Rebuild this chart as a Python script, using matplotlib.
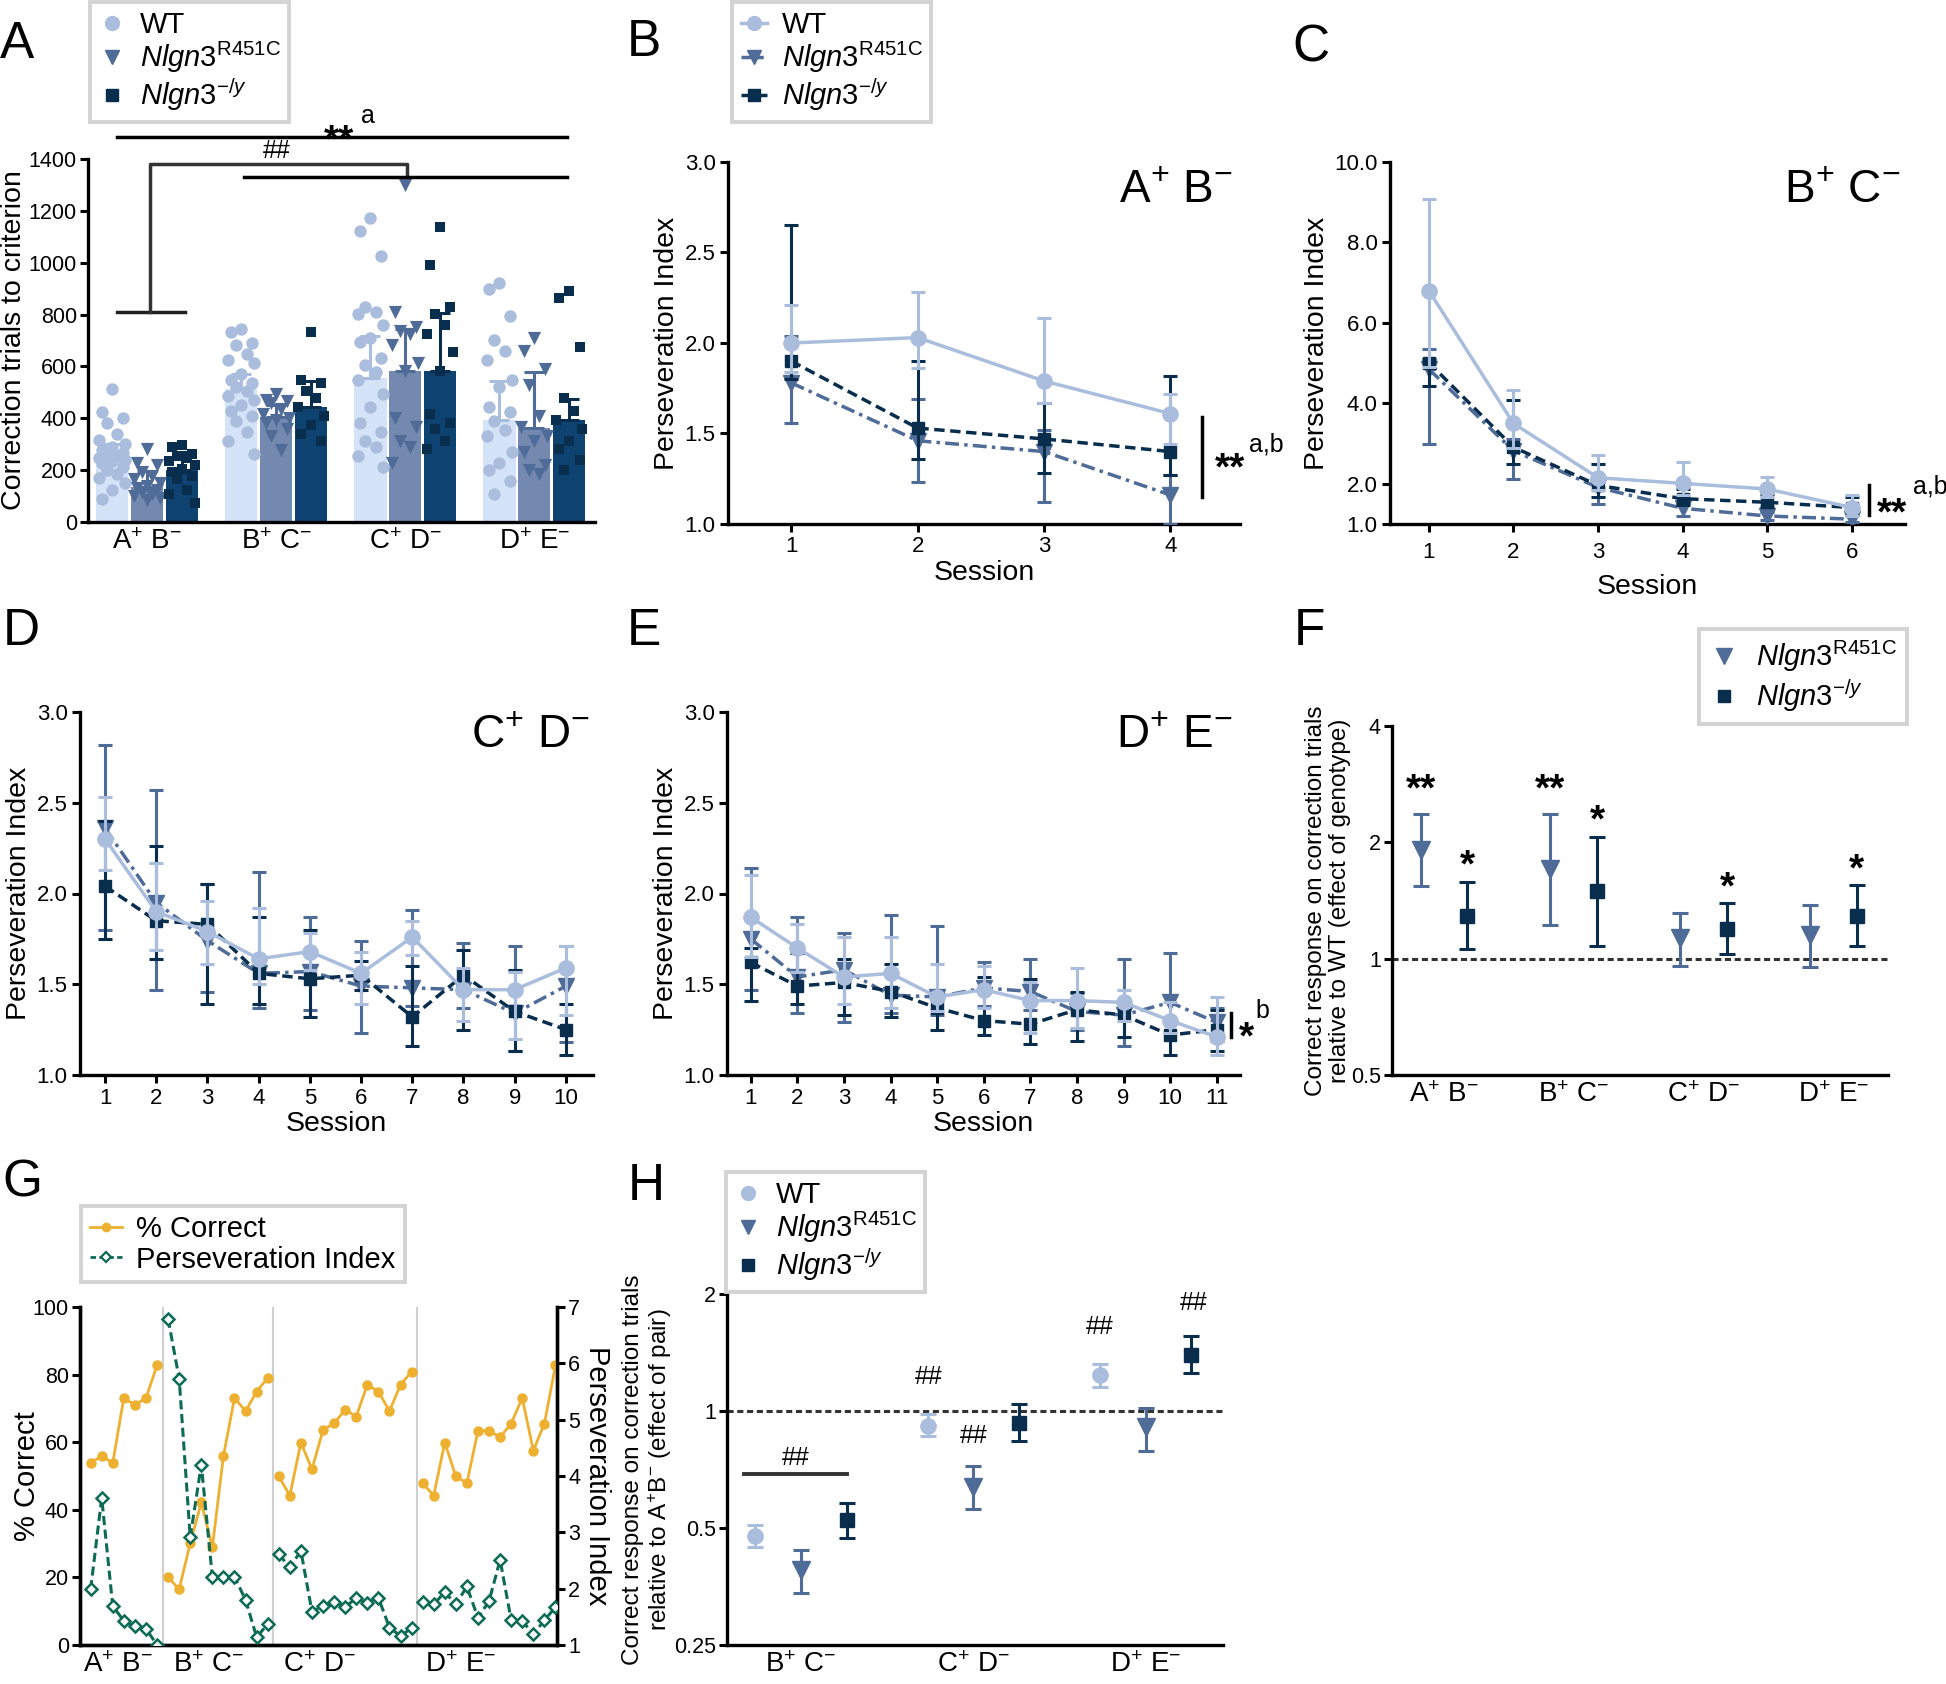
import numpy as np
import matplotlib
matplotlib.use("Agg")
import matplotlib.pyplot as plt
from matplotlib.lines import Line2D

plt.rcParams.update({
    'font.family': ['Liberation Sans', 'DejaVu Sans'],
    'mathtext.fontset': 'custom',
    'mathtext.rm': 'Liberation Sans',
    'mathtext.it': 'Liberation Sans:italic',
    'mathtext.bf': 'Liberation Sans:bold',
    'axes.linewidth': 2.4,
    'xtick.major.width': 2.2, 'ytick.major.width': 2.2,
    'xtick.major.size': 6, 'ytick.major.size': 6,
})

# ---------------- DATA ----------------
cats4 = [r'A$^{+}$ B$^{-}$', r'B$^{+}$ C$^{-}$', r'C$^{+}$ D$^{-}$', r'D$^{+}$ E$^{-}$']
cats3 = [r'B$^{+}$ C$^{-}$', r'C$^{+}$ D$^{-}$', r'D$^{+}$ E$^{-}$']
lab_wt = 'WT'
lab_r = r'$\mathit{Nlgn3}^{\mathrm{R451C}}$'
lab_ko = r'$\mathit{Nlgn3}^{-/y}$'

# Panel A: correction trials to criterion
a_wt_mean = [245, 514, 556, 392]
a_r_mean = [136, 405, 581, 364]
a_ko_mean = [202, 444, 584, 395]
a_wt_err = [55, 56, 161, 153]
a_r_err = [60, 46, 164, 213]
a_ko_err = [67, 100, 221, 81]
a_wt_pts = [
    [514, 423, 402, 381, 339, 318, 300, 290, 276, 265, 262, 255, 248, 241, 234, 227, 213, 199, 185, 171, 150, 122, 87],
    [745, 731, 689, 682, 647, 626, 612, 570, 549, 535, 521, 507, 486, 472, 451, 430, 409, 388, 346, 311, 262],
    [1172, 1123, 1025, 829, 808, 801, 759, 710, 696, 633, 605, 577, 549, 493, 444, 381, 346, 311, 290, 255, 213],
    [920, 899, 794, 703, 661, 626, 549, 521, 444, 423, 388, 353, 332, 269, 227, 199, 157, 108],
]
a_r_pts = [
    [283, 227, 220, 192, 178, 164, 150, 140, 130, 122, 115, 108, 100, 94, 85],
    [493, 472, 465, 458, 437, 416, 400, 395, 381, 360, 332, 276],
    [1298, 808, 752, 738, 724, 682, 612, 584, 402, 367, 311, 290, 227],
    [710, 661, 591, 528, 409, 367, 332, 311, 269, 220, 199, 185],
]
a_ko_pts = [
    [297, 290, 262, 255, 248, 234, 220, 206, 192, 178, 164, 122, 108, 73],
    [731, 549, 535, 507, 479, 444, 409, 374, 339, 311],
    [1137, 991, 829, 801, 759, 724, 654, 584, 416, 381, 360, 311, 283],
    [892, 864, 675, 479, 430, 395, 360, 311, 283, 241, 199],
]

# Panel B (A+B-), 4 sessions: means, lower and upper error lengths
b_sess = [1, 2, 3, 4]
b_wt = [2.00, 2.03, 1.79, 1.61]; b_wt_lo = [0.16, 0.17, 0.12, 0.17]; b_wt_hi = [0.21, 0.25, 0.35, 0.11]
b_r = [1.78, 1.46, 1.40, 1.16];  b_r_lo = [0.22, 0.23, 0.28, 0.16];  b_r_hi = [0.26, 0.23, 0.12, 0.11]
b_ko = [1.90, 1.53, 1.47, 1.40]; b_ko_lo = [0.10, 0.17, 0.19, 0.13]; b_ko_hi = [0.75, 0.37, 0.20, 0.42]

# Panel C (B+C-), 6 sessions
c_sess = [1, 2, 3, 4, 5, 6]
c_wt = [6.80, 3.50, 2.15, 2.01, 1.87, 1.41]
c_wt_lo = [1.90, 0.60, 0.30, 0.30, 0.20, 0.20]; c_wt_hi = [2.27, 0.83, 0.57, 0.52, 0.30, 0.30]
c_r = [4.85, 2.82, 1.91, 1.39, 1.20, 1.12]
c_r_lo = [1.85, 0.70, 0.41, 0.19, 0.10, 0.08]; c_r_hi = [0.50, 0.30, 0.20, 0.15, 0.10, 0.10]
c_ko = [5.01, 2.91, 1.96, 1.63, 1.54, 1.41]
c_ko_lo = [0.58, 0.43, 0.30, 0.15, 0.12, 0.12]; c_ko_hi = [0.10, 1.18, 0.54, 0.25, 0.20, 0.25]

# Panel D (C+D-), 10 sessions
d_sess = list(range(1, 11))
d_wt = [2.30, 1.90, 1.79, 1.64, 1.68, 1.56, 1.76, 1.47, 1.47, 1.59]
d_wt_lo = [0.17, 0.21, 0.18, 0.14, 0.10, 0.17, 0.10, 0.17, 0.27, 0.26]
d_wt_hi = [0.23, 0.27, 0.17, 0.28, 0.10, 0.12, 0.09, 0.12, 0.10, 0.12]
d_r = [2.36, 1.95, 1.74, 1.56, 1.57, 1.49, 1.48, 1.47, 1.34, 1.49]
d_r_lo = [0.56, 0.48, 0.28, 0.19, 0.21, 0.26, 0.10, 0.10, 0.21, 0.31]
d_r_hi = [0.46, 0.62, 0.31, 0.56, 0.30, 0.25, 0.43, 0.26, 0.37, 0.22]
d_ko = [2.04, 1.85, 1.83, 1.56, 1.53, 1.55, 1.32, 1.55, 1.35, 1.25]
d_ko_lo = [0.29, 0.21, 0.44, 0.17, 0.21, 0.08, 0.16, 0.30, 0.22, 0.14]
d_ko_hi = [0.36, 0.41, 0.22, 0.31, 0.27, 0.08, 0.28, 0.14, 0.23, 0.14]

# Panel E (D+E-), 11 sessions
e_sess = list(range(1, 12))
e_wt = [1.87, 1.70, 1.54, 1.56, 1.43, 1.47, 1.41, 1.41, 1.40, 1.30, 1.21]
e_wt_lo = [0.22, 0.13, 0.15, 0.19, 0.08, 0.10, 0.18, 0.15, 0.10, 0.07, 0.10]
e_wt_hi = [0.23, 0.13, 0.22, 0.20, 0.18, 0.13, 0.10, 0.18, 0.07, 0.10, 0.22]
e_r = [1.75, 1.54, 1.58, 1.44, 1.43, 1.48, 1.46, 1.35, 1.33, 1.40, 1.29]
e_r_lo = [0.28, 0.20, 0.29, 0.10, 0.10, 0.10, 0.10, 0.10, 0.17, 0.10, 0.10]
e_r_hi = [0.39, 0.33, 0.20, 0.44, 0.39, 0.14, 0.18, 0.10, 0.31, 0.27, 0.08]
e_ko = [1.62, 1.49, 1.51, 1.46, 1.37, 1.30, 1.28, 1.36, 1.33, 1.22, 1.25]
e_ko_lo = [0.21, 0.10, 0.18, 0.14, 0.12, 0.08, 0.11, 0.17, 0.12, 0.11, 0.12]
e_ko_hi = [0.08, 0.18, 0.13, 0.15, 0.08, 0.24, 0.25, 0.10, 0.05, 0.08, 0.11]

# Panel F: effect of genotype (relative to WT)
f_r = [1.91, 1.71, 1.13, 1.15]; f_r_lo = [1.54, 1.22, 0.96, 0.95]; f_r_hi = [2.37, 2.37, 1.31, 1.38]
f_ko = [1.29, 1.50, 1.19, 1.29]; f_ko_lo = [1.06, 1.08, 1.03, 1.08]; f_ko_hi = [1.58, 2.07, 1.39, 1.55]
f_r_sig = ['**', '**', '', '']
f_ko_sig = ['*', '*', '*', '*']

# Panel G: WT % correct and perseveration index by session
g_group_sizes = [7, 10, 13, 13]
g_pc = [53.9, 55.9, 53.9, 73.1, 71.0, 73.1, 82.7,
        20.0, 16.5, 30.1, 42.2, 28.9, 55.9, 73.1, 69.2, 75.0, 79.0,
        49.9, 44.2, 59.9, 52.0, 63.6, 65.6, 69.6, 67.6, 77.0, 75.0, 69.2, 77.0, 80.9,
        47.9, 44.2, 59.9, 49.9, 47.9, 63.4, 63.4, 61.5, 65.5, 73.1, 57.5, 65.5, 82.7]
g_pi = [1.99, 3.61, 1.69, 1.43, 1.33, 1.29, 1.00,
        6.79, 5.73, 2.91, 4.20, 2.21, 2.21, 2.21, 1.80, 1.14, 1.37,
        2.61, 2.38, 2.67, 1.59, 1.69, 1.77, 1.68, 1.83, 1.75, 1.84, 1.31, 1.16, 1.30,
        1.77, 1.72, 1.94, 1.72, 2.04, 1.48, 1.78, 2.51, 1.44, 1.43, 1.19, 1.44, 1.67]

# Panel H: effect of pair (relative to A+B-)
h_wt = [0.476, 0.915, 1.235]; h_wt_lo = [0.447, 0.86, 1.15]; h_wt_hi = [0.508, 0.98, 1.32]
h_r = [0.39, 0.637, 0.91];    h_r_lo = [0.34, 0.56, 0.79];    h_r_hi = [0.44, 0.72, 1.02]
h_ko = [0.523, 0.933, 1.39];  h_ko_lo = [0.47, 0.837, 1.25];  h_ko_hi = [0.58, 1.04, 1.56]

# ---------------- STYLE ----------------
WT_C, R_C, KO_C = '#aabddd', '#4f6b97', '#082d4d'
WT_BAR, R_BAR, KO_BAR = '#d4e3f7', '#7489b0', '#0e4270'
ORANGE, GREEN = '#eeb030', '#0d6b55'

W, H = 1946, 1684
fig = plt.figure(figsize=(W / 100, H / 100), dpi=100)


def add_ax(l, t, r, b):
    return fig.add_axes([l / W, 1 - b / H, (r - l) / W, (b - t) / H])


def ftext(x, y, s, **kw):
    fig.text(x / W, 1 - y / H, s, **kw)


def star(ax, x, y, s, fs=26):
    ax.annotate(s, xy=(x, y), xytext=(0, -0.62 * fs), textcoords='offset points',
                ha='center', va='baseline', fontsize=fs, fontweight='bold',
                annotation_clip=False)


def clean(ax):
    ax.spines['top'].set_visible(False)
    ax.spines['right'].set_visible(False)


def legend_at(ax, handles, labels, x, y, fs=21, **kw):
    leg = ax.legend(handles, labels, loc='upper left', bbox_to_anchor=(x / W, 1 - y / H),
                    bbox_transform=fig.transFigure, fontsize=fs, frameon=True, fancybox=False,
                    borderaxespad=0, **kw)
    fr = leg.get_frame()
    fr.set_edgecolor('#d3d3d3'); fr.set_linewidth(2.8); fr.set_facecolor('white'); fr.set_alpha(1)
    return leg


# ---------------- PANEL A ----------------
axA = add_ax(88, 159, 595, 522)
clean(axA)
xA = np.arange(4)
offs = [-0.27, 0.0, 0.27]
cyc = [0.0, -0.08, 0.08, -0.04, 0.04, -0.1, 0.1]
groupsA = [
    (a_wt_mean, a_wt_err, a_wt_pts, WT_BAR, WT_C, 'o', 80),
    (a_r_mean, a_r_err, a_r_pts, R_BAR, R_C, 'v', 90),
    (a_ko_mean, a_ko_err, a_ko_pts, KO_BAR, KO_C, 's', 58),
]
for k, (m, e, pts, bc, pc, mk, sz) in enumerate(groupsA):
    axA.bar(xA + offs[k], m, 0.25, color=bc, zorder=1)
    for i in range(4):
        jit = [cyc[j % len(cyc)] for j in range(len(pts[i]))]
        axA.scatter(xA[i] + offs[k] + np.array(jit), pts[i], marker=mk, s=sz, color=pc,
                    linewidths=0, zorder=2)
    axA.errorbar(xA + offs[k], m, yerr=[np.zeros(4), e], fmt='none', ecolor=pc,
                 elinewidth=2.2, capsize=7, capthick=2.2, zorder=3)
axA.set_xlim(-0.458, 3.47)
axA.set_ylim(0, 1400)
axA.set_yticks(range(0, 1401, 200))
axA.set_xticks(xA)
axA.set_xticklabels(cats4, fontsize=20)
axA.tick_params(axis='x', length=0, pad=5)
axA.tick_params(axis='y', labelsize=15.5, pad=2)
axA.set_ylabel('Correction trials to criterion', fontsize=20.5, labelpad=1)
axA.plot([-0.236, 3.25], [1484, 1484], color='k', lw=2.5, clip_on=False)
star(axA, 1.49, 1522, '**', 28)
axA.text(1.71, 1564, 'a', fontsize=18, ha='center', va='center', clip_on=False)
axA.plot([-0.236, 0.296], [808, 808], color='#222222', lw=2.5, clip_on=False)
axA.plot([0.024, 0.024, 2.01, 2.01], [808, 1379, 1379, 1340], color='#333333', lw=2.5, clip_on=False)
axA.plot([0.754, 3.25], [1330, 1330], color='k', lw=2.5, clip_on=False)
axA.text(1.005, 1431, '##', fontsize=18, ha='center', va='center', clip_on=False)
legend_at(axA,
          [Line2D([], [], ls='none', marker='o', color=WT_C, ms=10),
           Line2D([], [], ls='none', marker='v', color=R_C, ms=10),
           Line2D([], [], ls='none', marker='s', color=KO_C, ms=8)],
          [lab_wt, lab_r, lab_ko], 90, 2, handlelength=0.9, handletextpad=0.5,
          labelspacing=0.05, borderpad=0.3)


# ---------------- SESSION PANELS ----------------
def session_panel(ax, xs, wt, wlo, whi, r, rlo, rhi, ko, klo, khi, xpad=2):
    clean(ax)
    ax.errorbar(xs, r, yerr=[rlo, rhi], color=R_C, ls=(0, (4, 1.5, 1, 1.5)), marker='v', ms=11,
                lw=2.5, elinewidth=2.2, capsize=5, capthick=2.2, zorder=3)
    ax.errorbar(xs, ko, yerr=[klo, khi], color=KO_C, ls=(0, (3, 1.6)), marker='s', ms=9,
                lw=2.5, elinewidth=2.2, capsize=5, capthick=2.2, zorder=4)
    ax.errorbar(xs, wt, yerr=[wlo, whi], color=WT_C, ls='-', marker='o', ms=11,
                lw=2.5, elinewidth=2.2, capsize=5, capthick=2.2, zorder=5)
    ax.set_xticks(xs)
    ax.tick_params(labelsize=16, pad=3)
    ax.set_xlabel('Session', fontsize=20.5, labelpad=xpad)
    ax.set_ylabel('Perseveration Index', fontsize=20.5, labelpad=3)


PI_TICKS = [1.0, 1.5, 2.0, 2.5, 3.0]
PI_LABELS = ['1.0', '1.5', '2.0', '2.5', '3.0']

axB = add_ax(728, 162, 1240, 524)
session_panel(axB, b_sess, b_wt, b_wt_lo, b_wt_hi, b_r, b_r_lo, b_r_hi, b_ko, b_ko_lo, b_ko_hi)
axB.set_xlim(0.5, 4.55); axB.set_ylim(1, 3)
axB.set_yticks(PI_TICKS); axB.set_yticklabels(PI_LABELS)
axB.plot([4.25, 4.25], [1.15, 1.59], color='k', lw=2.5, clip_on=False)
star(axB, 4.47, 1.38, '**', 28)
axB.text(4.76, 1.44, 'a,b', fontsize=18, ha='center', va='center', clip_on=False)
legend_at(axB,
          [Line2D([], [], ls='-', marker='o', color=WT_C, ms=10, lw=2.5),
           Line2D([], [], ls='-.', marker='v', color=R_C, ms=10, lw=2.5),
           Line2D([], [], ls='--', marker='s', color=KO_C, ms=8, lw=2.5)],
          [lab_wt, lab_r, lab_ko], 732, 2, handlelength=0.9, handletextpad=0.5,
          labelspacing=0.05, borderpad=0.3)
ftext(1176, 191, r'A$^{+}$ B$^{-}$', fontsize=33, ha='center', va='center')

axC = add_ax(1390, 162, 1905, 524)
session_panel(axC, c_sess, c_wt, c_wt_lo, c_wt_hi, c_r, c_r_lo, c_r_hi, c_ko, c_ko_lo, c_ko_hi, xpad=8)
axC.set_xlim(0.54, 6.63); axC.set_ylim(1, 10)
axC.set_yticks([1, 2, 4, 6, 8, 10]); axC.set_yticklabels(['1.0', '2.0', '4.0', '6.0', '8.0', '10.0'])
axC.tick_params(axis='x', pad=7)
axC.plot([6.2, 6.2], [1.22, 1.96], color='k', lw=2.5, clip_on=False)
star(axC, 6.48, 1.58, '**', 28)
axC.text(6.93, 1.92, 'a,b', fontsize=18, ha='center', va='center', clip_on=False)
ftext(1842, 191, r'B$^{+}$ C$^{-}$', fontsize=33, ha='center', va='center')

axD = add_ax(80, 712, 593, 1075)
session_panel(axD, d_sess, d_wt, d_wt_lo, d_wt_hi, d_r, d_r_lo, d_r_hi, d_ko, d_ko_lo, d_ko_hi)
axD.set_xlim(0.51, 10.53); axD.set_ylim(1, 3)
axD.set_yticks(PI_TICKS); axD.set_yticklabels(PI_LABELS)
ftext(531, 736, r'C$^{+}$ D$^{-}$', fontsize=33, ha='center', va='center')

axE = add_ax(727, 712, 1240, 1075)
session_panel(axE, e_sess, e_wt, e_wt_lo, e_wt_hi, e_r, e_r_lo, e_r_hi, e_ko, e_ko_lo, e_ko_hi)
axE.set_xlim(0.49, 11.5); axE.set_ylim(1, 3)
axE.set_yticks(PI_TICKS); axE.set_yticklabels(PI_LABELS)
axE.plot([11.31, 11.31], [1.21, 1.34], color='k', lw=2.5, clip_on=False)
star(axE, 11.64, 1.28, '*', 28)
axE.text(11.97, 1.35, 'b', fontsize=18, ha='center', va='center', clip_on=False)
ftext(1174, 736, r'D$^{+}$ E$^{-}$', fontsize=33, ha='center', va='center')


# ---------------- PANEL F ----------------
def ratio_axes(ax):
    clean(ax)
    ax.set_yscale('log', base=2)
    ax.yaxis.set_minor_locator(matplotlib.ticker.NullLocator())
    ax.tick_params(axis='x', length=0, labelsize=20, pad=5)
    ax.tick_params(axis='y', labelsize=15.5, pad=2)


axF = add_ax(1392, 726, 1888, 1075)
ratio_axes(axF)
xF = np.arange(4)
axF.axhline(1, color='#333333', lw=2.2, ls=(0, (2, 1.2)), zorder=1)
axF.errorbar(xF - 0.18, f_r, yerr=[np.array(f_r) - f_r_lo, np.array(f_r_hi) - f_r],
             fmt='v', color=R_C, ms=13, elinewidth=2.2, capsize=6, capthick=2.2, zorder=3)
axF.errorbar(xF + 0.18, f_ko, yerr=[np.array(f_ko) - f_ko_lo, np.array(f_ko_hi) - f_ko],
             fmt='s', color=KO_C, ms=10, elinewidth=2.2, capsize=6, capthick=2.2, zorder=3)
for i in range(4):
    if f_r_sig[i]:
        star(axF, xF[i] - 0.18, f_r_hi[i] * 1.25, f_r_sig[i], 28)
    if f_ko_sig[i]:
        star(axF, xF[i] + 0.18, f_ko_hi[i] * 1.19, f_ko_sig[i], 28)
axF.set_xlim(-0.40, 3.42); axF.set_ylim(0.5, 4)
axF.set_yticks([0.5, 1, 2, 4]); axF.set_yticklabels(['0.5', '1', '2', '4'])
axF.set_xticks(xF); axF.set_xticklabels(cats4)
axF.set_ylabel('Correct response on correction trials\nrelative to WT (effect of genotype)',
               fontsize=17.5, labelpad=0, linespacing=1.1)
legend_at(axF,
          [Line2D([], [], ls='none', marker='v', color=R_C, ms=11),
           Line2D([], [], ls='none', marker='s', color=KO_C, ms=9)],
          [lab_r, lab_ko], 1699, 629, handlelength=1.0, handletextpad=0.6,
          labelspacing=0.1, borderpad=0.35)

# ---------------- PANEL G ----------------
axG = add_ax(80, 1307, 557, 1645)
axG2 = axG.twinx()
axG.spines['top'].set_visible(False)
axG2.spines['top'].set_visible(False)
start = 0
for n in g_group_sizes:
    xs = np.arange(start, start + n)
    axG.plot(xs, g_pc[start:start + n], color=ORANGE, marker='o', ms=6.5, lw=2, zorder=3)
    axG2.plot(xs, g_pi[start:start + n], color=GREEN, ls=(0, (3, 1.5)), marker='D', ms=6,
              mfc='white', mec=GREEN, mew=1.8, lw=2.2, zorder=3)
    start += n
    if start < len(g_pc):
        axG.axvline(start - 0.5, color='#cfcfcf', lw=1.5, zorder=0)
axG.set_xlim(-0.96, 42.14)
axG.set_ylim(0, 100); axG2.set_ylim(1, 7)
axG.set_yticks(range(0, 101, 20)); axG2.set_yticks(range(1, 8))
axG.set_xticks([2.5, 10.7, 20.7, 33.4]); axG.set_xticklabels(cats4)
axG.tick_params(axis='x', length=0, labelsize=20, pad=5)
axG.tick_params(axis='y', labelsize=15.5, pad=2)
axG2.tick_params(axis='y', labelsize=15.5, pad=2)
axG.set_ylabel('% Correct', fontsize=21, labelpad=-6)
axG2.set_ylabel('Perseveration Index', fontsize=21, rotation=270, labelpad=22)
legend_at(axG,
          [Line2D([], [], color=ORANGE, marker='o', ms=6, lw=2),
           Line2D([], [], color=GREEN, ls=(0, (2, 1.2)), marker='D', ms=5.5, mfc='white', mew=1.6, lw=2)],
          ['% Correct', 'Perseveration Index'], 81, 1206, handlelength=1.1, handletextpad=0.5,
          labelspacing=0.1, borderpad=0.3)

# ---------------- PANEL H ----------------
axH = add_ax(727, 1294, 1223, 1645)
ratio_axes(axH)
xH = np.arange(3)
axH.axhline(1, color='#333333', lw=2.2, ls=(0, (2, 1.2)), zorder=1)
for off, m, lo, hi, mk, c, ms in [(-0.265, h_wt, h_wt_lo, h_wt_hi, 'o', WT_C, 11),
                                  (0.0, h_r, h_r_lo, h_r_hi, 'v', R_C, 13),
                                  (0.265, h_ko, h_ko_lo, h_ko_hi, 's', KO_C, 10)]:
    axH.errorbar(xH + off, m, yerr=[np.array(m) - lo, np.array(hi) - m], fmt=mk, color=c,
                 ms=ms, elinewidth=2.2, capsize=6, capthick=2.2, zorder=3)
axH.plot([-0.333, 0.264], [0.69, 0.69], color='#333333', lw=2.8)
for (hx, hy) in [(-0.03, 0.757), (0.743, 1.22), (1.0, 0.862), (1.736, 1.645), (2.28, 1.90)]:
    axH.text(hx, hy, '##', fontsize=18, ha='center', va='center', clip_on=False)
axH.set_xlim(-0.43, 2.45); axH.set_ylim(0.25, 2)
axH.set_yticks([0.25, 0.5, 1, 2]); axH.set_yticklabels(['0.25', '0.5', '1', '2'])
axH.set_xticks(xH); axH.set_xticklabels(cats3)
axH.set_ylabel('Correct response on correction trials\nrelative to A$^{+}$B$^{-}$ (effect of pair)',
               fontsize=17.5, labelpad=0, linespacing=1.1)
legend_at(axH,
          [Line2D([], [], ls='none', marker='o', color=WT_C, ms=10),
           Line2D([], [], ls='none', marker='v', color=R_C, ms=10),
           Line2D([], [], ls='none', marker='s', color=KO_C, ms=8)],
          [lab_wt, lab_r, lab_ko], 726, 1172, handlelength=0.9, handletextpad=0.5,
          labelspacing=0.05, borderpad=0.3)

# ---------------- PANEL LETTERS ----------------
for lt, (px, py) in {'A': (17, 44), 'B': (644, 42), 'C': (1311, 48), 'D': (21, 632),
                     'E': (644, 632), 'F': (1309, 632), 'G': (22, 1183), 'H': (646, 1187)}.items():
    ftext(px, py, lt, fontsize=37, ha='center', va='center')

fig.savefig('out.png', dpi=100)
